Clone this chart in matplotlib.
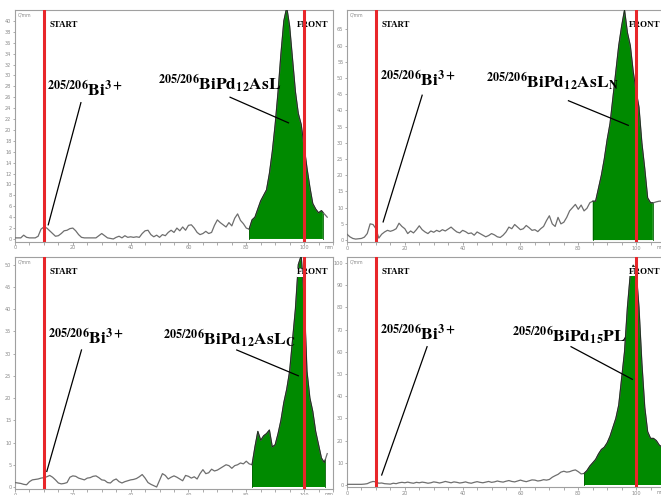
import numpy as np
import matplotlib
matplotlib.use("Agg")
import matplotlib.pyplot as plt
from matplotlib.ticker import MultipleLocator

plt.rcParams['mathtext.fontset'] = 'stix'

# ---------------- data (counts per mm) ----------------
p1_counts = [0.2, 0.2, 0.2, 0.7, 0.3, 0.2, 0.2, 0.2, 0.5, 1.8, 2.2, 2.0, 1.5, 1.0, 0.5, 0.6, 1.0, 1.5, 1.6, 1.9,
             2.0, 1.5, 0.8, 0.3, 0.2, 0.2, 0.2, 0.2, 0.2, 0.6, 1.0, 0.6, 0.2, 0.1, 0.0, 0.3, 0.5, 0.2, 0.6, 0.3,
             0.4, 0.3, 0.4, 0.3, 1.0, 1.5, 1.6, 0.8, 0.4, 0.7, 0.3, 0.8, 0.6, 1.2, 1.6, 1.2, 2.0, 1.5, 2.2, 1.6,
             2.5, 2.6, 2.0, 1.2, 0.8, 1.0, 1.4, 1.0, 1.2, 2.5, 3.5, 3.0, 2.6, 2.2, 3.0, 2.4, 3.8, 4.6, 3.4, 2.8,
             2.0, 1.8, 3.5, 4.0, 5.5, 7.0, 8.0, 9.0, 12.0, 16.0, 21.0, 27.0, 34.0, 40.0, 42.5, 39.0, 33.0, 27.0, 23.0, 21.0,
             17.0, 13.0, 9.5, 6.5, 5.5, 4.8, 5.2, 4.6, 4.0]
p2_counts = [1.8, 1.0, 0.5, 0.3, 0.4, 0.5, 0.9, 2.0, 5.0, 4.8, 3.5, 0.6, 1.8, 2.5, 3.0, 2.7, 3.0, 3.5, 5.2, 4.2,
             3.5, 2.0, 2.8, 2.2, 3.2, 4.4, 3.2, 2.5, 2.0, 2.8, 2.4, 3.0, 2.6, 3.2, 2.8, 3.4, 4.0, 3.2, 2.5, 2.2,
             3.0, 2.6, 2.0, 2.2, 1.5, 2.5, 2.0, 1.5, 1.0, 1.4, 2.0, 1.6, 1.0, 0.8, 1.5, 2.5, 4.0, 3.5, 4.8, 4.0,
             3.2, 3.5, 4.5, 3.8, 3.0, 3.2, 2.6, 3.5, 4.2, 6.0, 7.5, 5.0, 4.2, 7.0, 5.0, 5.5, 7.0, 9.0, 10.0, 11.0,
             9.5, 10.8, 9.0, 9.8, 11.5, 12.0, 12.0, 16.0, 20.0, 25.0, 31.0, 36.0, 44.0, 52.0, 60.0, 66.0, 71.0, 64.0, 60.0, 52.0,
             46.0, 41.0, 30.0, 22.0, 13.0, 11.5, 11.5, 11.8, 12.0, 12.0]
p3_counts = [1.0, 0.9, 0.8, 0.6, 0.5, 1.2, 1.6, 1.7, 1.8, 2.0, 2.1, 2.3, 2.6, 2.2, 1.6, 0.9, 0.7, 0.8, 1.0, 2.2,
             2.5, 2.4, 2.0, 1.8, 1.6, 2.0, 2.1, 2.4, 2.5, 2.1, 1.6, 1.5, 1.0, 0.9, 1.5, 1.8, 1.2, 0.9, 1.2, 1.4,
             1.6, 1.7, 1.9, 2.3, 2.8, 2.0, 1.0, 0.6, 0.3, 0.0, 1.5, 3.0, 2.6, 1.8, 2.2, 2.5, 2.2, 1.8, 1.4, 2.6,
             2.4, 2.0, 2.3, 1.8, 3.0, 3.9, 3.0, 3.2, 4.0, 3.6, 3.8, 4.2, 4.6, 5.0, 4.8, 4.2, 4.8, 5.0, 5.4, 5.2,
             5.8, 5.2, 5.0, 9.0, 12.5, 10.5, 11.5, 12.0, 12.8, 9.0, 9.5, 12.0, 15.0, 19.0, 22.0, 26.0, 33.0, 40.0, 50.0, 52.0,
             43.0, 26.0, 20.0, 17.0, 12.5, 9.5, 6.5, 5.5, 7.5]
p4_counts = [0.3, 0.3, 0.3, 0.3, 0.3, 0.3, 0.4, 0.6, 1.2, 1.6, 1.4, 0.8, 0.9, 0.6, 0.5, 0.4, 0.8, 0.6, 1.0, 1.2,
             1.0, 1.3, 1.0, 0.8, 1.2, 1.0, 1.3, 1.1, 0.8, 1.0, 1.4, 1.2, 0.9, 1.2, 1.6, 1.3, 1.0, 1.4, 1.2, 0.9,
             1.1, 1.4, 1.0, 0.8, 1.2, 1.5, 1.2, 1.0, 1.3, 1.6, 1.2, 1.4, 1.8, 1.5, 1.3, 1.7, 2.0, 1.6, 1.4, 1.8,
             2.2, 1.8, 1.5, 1.9, 2.3, 2.2, 1.8, 2.0, 2.4, 2.2, 2.5, 3.5, 4.2, 4.8, 5.8, 6.2, 5.8, 6.0, 6.5, 6.8,
             6.0, 5.0, 5.2, 6.5, 8.5, 10.0, 11.5, 14.0, 16.0, 17.0, 19.0, 22.0, 26.0, 30.0, 36.0, 48.0, 60.0, 80.0, 95.0, 99.0,
             97.0, 80.0, 55.0, 35.0, 24.0, 21.0, 21.0, 20.0, 18.0, 17.0, 15.0]

# green (integrated) peak region [start, end] in mm
peak_ranges = [(81.0, 106.5), (85.0, 105.8), (82.0, 107.3), (82.0, 112.0)]
y_limits = [(-0.5, 42.0), (-0.6, 71.0), (-0.45, 51.7), (-0.9, 102.7)]
y_steps = [2, 5, 5, 10]
y_max_tick = [40, 65, 50, 100]
start_mm = 10
front_mm = 100

ion_label = r'$^{\mathbf{205/206}}\mathbf{Bi}^{\mathbf{3+}}$'
complex_labels = [r'$^{\mathbf{205/206}}\mathbf{BiPd}_{\mathbf{12}}\mathbf{AsL}$',
                  r'$^{\mathbf{205/206}}\mathbf{BiPd}_{\mathbf{12}}\mathbf{AsL}_{\mathbf{N}}$',
                  r'$^{\mathbf{205/206}}\mathbf{BiPd}_{\mathbf{12}}\mathbf{AsL}_{\mathbf{C}}$',
                  r'$^{\mathbf{205/206}}\mathbf{BiPd}_{\mathbf{15}}\mathbf{PL}$']
# label anchors (x mm, baseline y) and pointer lines
ion_pos = [(11.2, 26.2), (11.3, 47.5), (11.5, 32.0), (11.4, 65.0)]
cplx_pos = [(49.3, 27.3), (48.0, 47.1), (51.3, 32.0), (57.0, 64.6)]
ion_ptr = [((22.8, 25.0), (11.5, 2.6)), ((26.0, 44.7), (12.5, 5.6)),
           ((23.0, 30.8), (11.0, 3.5)), ((27.7, 62.3), (12.0, 4.5))]
cplx_ptr = [((74.4, 26.0), (94.6, 21.3)), ((76.6, 43.0), (97.3, 35.4)),
            ((76.7, 30.8), (98.0, 25.0)), ((77.5, 62.3), (98.7, 47.6))]

all_counts = [p1_counts, p2_counts, p3_counts, p4_counts]

# ---------------- layout (pixel boxes) ----------------
W, H = 661, 495
boxes = [(15, 10, 333, 241.7), (347, 10, 665, 242), (15, 257, 333, 489), (347, 257, 665, 487)]

fig = plt.figure(figsize=(W / 100, H / 100), dpi=100)
fig.patch.set_facecolor('white')

for i in range(4):
    l, t, r, b = boxes[i]
    ax = fig.add_axes([l / W, 1 - b / H, (r - l) / W, (b - t) / H])
    counts = np.array(all_counts[i], dtype=float)
    mm = np.arange(len(counts), dtype=float)

    # green peak polygon
    a, e = peak_ranges[i]
    e = min(e, mm[-1])
    inside = (mm > a) & (mm < e)
    px = np.concatenate([[a], mm[inside], [e]])
    py = np.interp(px, mm, counts)
    ax.fill_between(px, 0, py, color='#008a00', edgecolor='none', zorder=2)
    ax.plot([a, a], [0, py[0]], color='#006000', lw=0.6, zorder=2)
    ax.plot([e, e], [0, py[-1]], color='#006000', lw=0.6, zorder=2)

    # trace
    base = ~inside
    ax.plot(mm, counts, color='#6e6e6e', lw=0.9, zorder=3)
    ax.plot(px, py, color='#1e2e1e', lw=0.7, zorder=3)

    ax.set_xlim(0, 110)
    ax.set_ylim(*y_limits[i])

    # START / FRONT
    ax.axvline(start_mm, color='#e8262a', lw=2.2, zorder=6)
    ax.axvline(front_mm, color='#e8262a', lw=2.2, zorder=6)
    ax.text(11.8, 0.935, 'START', transform=ax.get_xaxis_transform(), fontsize=6.3,
            family='Liberation Serif', weight='bold', ha='left', va='center', zorder=5)
    ax.text(97.6, 0.935, 'FRONT', transform=ax.get_xaxis_transform(), fontsize=6.5,
            family='Liberation Serif', weight='bold', ha='left', va='center', zorder=5,
            bbox=dict(boxstyle='square,pad=0.05', fc='white', ec='none'), clip_on=True)

    # labels
    ax.text(ion_pos[i][0], ion_pos[i][1], ion_label, fontsize=12.5, ha='left', va='baseline', zorder=7)
    ax.text(cplx_pos[i][0], cplx_pos[i][1], complex_labels[i], fontsize=12.5, ha='left', va='baseline', zorder=7)
    (x0, y0), (x1, y1) = ion_ptr[i]
    ax.plot([x0, x1], [y0, y1], color='black', lw=0.9, zorder=7)
    (x0, y0), (x1, y1) = cplx_ptr[i]
    ax.plot([x0, x1], [y0, y1], color='black', lw=0.9, zorder=7)

    # axis cosmetics
    ax.set_yticks(np.arange(0, y_max_tick[i] + 0.1, y_steps[i]))
    ax.set_xticks([0, 20, 40, 60, 80, 100])
    ax.xaxis.set_minor_locator(MultipleLocator(5))
    ax.tick_params(axis='both', which='both', labelsize=3.6, labelcolor='#8a8a8a',
                   color='#8a8a8a', length=1.8, width=0.5, pad=0.8, direction='out')
    ax.tick_params(axis='x', which='minor', length=1.8)
    for sp in ax.spines.values():
        sp.set_color('#a0a0a0')
        sp.set_linewidth(0.8)
    ax.text(0.008, 0.99, 'C/mm', transform=ax.transAxes, fontsize=3.3, color='#8a8a8a',
            ha='left', va='top')
    ax.text(108.5, -0.015, 'mm', transform=ax.get_xaxis_transform(), fontsize=3.3, color='#8a8a8a',
            ha='center', va='top', clip_on=False)

fig.savefig('out.png', dpi=100)
